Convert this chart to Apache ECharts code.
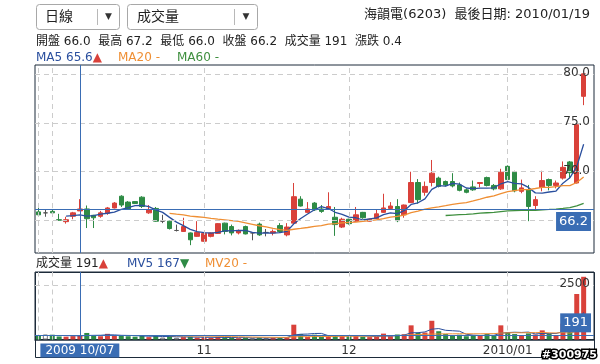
<!DOCTYPE html>
<html><head><meta charset="utf-8">
<script src="https://cdn.jsdelivr.net/npm/echarts@6/dist/echarts.min.js"></script>
<style>html,body{margin:0;padding:0;background:#fff}#c{width:600px;height:364px}</style>
</head><body><div id="c"></div>
<script>
// ---- data ----
const dates = [
 '2009/09/29','2009/09/30',
 '2009/10/01','2009/10/02','2009/10/05','2009/10/06','2009/10/07','2009/10/08','2009/10/09','2009/10/12','2009/10/13','2009/10/14','2009/10/15','2009/10/16','2009/10/19','2009/10/20','2009/10/21','2009/10/22','2009/10/23','2009/10/26','2009/10/27','2009/10/28','2009/10/29','2009/10/30',
 '2009/11/02','2009/11/03','2009/11/04','2009/11/05','2009/11/06','2009/11/09','2009/11/10','2009/11/11','2009/11/12','2009/11/13','2009/11/16','2009/11/17','2009/11/18','2009/11/19','2009/11/20','2009/11/23','2009/11/24','2009/11/25','2009/11/26','2009/11/27','2009/11/30',
 '2009/12/01','2009/12/02','2009/12/03','2009/12/04','2009/12/07','2009/12/08','2009/12/09','2009/12/10','2009/12/11','2009/12/14','2009/12/15','2009/12/16','2009/12/17','2009/12/18','2009/12/21','2009/12/22','2009/12/23','2009/12/24','2009/12/25','2009/12/28','2009/12/29','2009/12/30','2009/12/31',
 '2010/01/04','2010/01/05','2010/01/06','2010/01/07','2010/01/08','2010/01/11','2010/01/12','2010/01/13','2010/01/14','2010/01/15','2010/01/18','2010/01/19'
];
const openP = [65.9,65.8,65.95,65.1,64.9,65.45,66.0,66.2,65.55,65.45,65.75,66.3,67.5,66.9,66.95,67.4,65.8,66.25,64.95,64.95,
 64.0,63.9,63.75,63.4,62.9,63.4,63.7,64.75,64.4,63.75,64.4,63.75,64.65,63.8,63.75,64.5,63.55,64.75,67.2,65.85,
 66.8,66.2,66.2,65.35,64.35,65.15,64.95,65.85,64.95,65.2,65.85,66.25,66.45,65.6,66.85,68.9,67.9,68.9,69.35,69.0,
 69.0,68.65,68.15,68.45,68.8,69.4,68.6,68.25,70.55,69.95,68.0,68.15,66.55,68.4,69.2,68.6,69.35,71.0,68.85,77.7];
const closeP = [65.6,65.8,65.8,65.05,65.1,65.8,66.2,65.2,65.3,65.8,66.3,66.8,66.6,66.2,66.75,66.45,66.15,64.95,64.95,64.2,
 64.0,64.4,63.05,63.8,63.7,63.75,64.7,63.9,63.75,64.0,63.65,63.75,63.55,63.8,63.9,63.9,64.35,67.45,66.5,66.2,
 66.1,65.95,66.45,64.6,65.15,64.7,65.6,65.3,65.15,65.7,66.3,66.5,65.0,66.6,68.9,67.15,68.5,69.85,68.5,68.65,
 68.55,68.1,67.9,68.15,68.9,68.6,68.25,69.95,69.2,68.05,68.35,66.45,67.15,69.1,68.6,68.85,70.45,69.9,74.8,80.0];
const lowP = [65.4,65.4,65.6,65.0,64.7,65.15,66.0,64.25,64.25,65.3,65.6,66.25,66.4,66.1,66.7,66.3,65.7,64.9,64.75,64.1,
 63.9,63.85,62.5,63.35,62.85,63.3,63.65,63.6,63.5,63.6,63.6,63.0,63.45,63.4,63.5,63.75,63.4,64.7,66.45,65.8,
 66.0,65.8,66.1,63.45,64.25,64.6,64.9,65.2,64.9,65.15,65.8,66.2,64.85,65.3,66.8,66.75,67.55,68.5,68.4,68.5,
 68.4,68.0,67.8,68.05,68.4,68.5,68.1,68.15,69.0,67.9,67.8,64.95,66.1,68.0,68.1,68.3,69.2,69.3,68.8,76.8];
const highP = [66.6,66.1,66.2,65.7,65.4,65.9,67.2,66.55,65.6,66.0,66.4,66.9,67.6,67.0,67.0,67.5,66.6,66.4,65.6,65.0,
 64.6,65.3,63.8,64.95,63.75,63.8,64.75,64.8,64.6,64.1,64.5,63.8,64.8,64.15,64.1,64.75,64.75,68.85,67.5,66.9,
 66.9,66.6,67.9,66.4,65.3,65.2,66.4,65.9,65.2,66.1,67.75,66.9,67.2,66.65,70.0,69.25,69.0,71.2,69.5,69.1,
 69.85,68.9,68.3,69.1,68.95,69.5,68.75,70.3,70.65,70.1,69.2,68.65,67.5,70.1,69.3,69.1,71.05,71.1,74.8,80.0];
const volume = [180,230,220,140,130,154,191,300,180,150,260,170,200,150,130,160,110,200,90,150,
 80,110,130,90,100,70,120,90,80,60,80,60,90,70,80,90,110,680,250,120,
 220,130,160,200,180,150,170,130,110,120,270,150,230,240,650,300,320,860,380,250,
 200,220,150,180,170,250,200,650,320,250,200,280,230,420,260,180,730,350,2090,2880];
const priceTicks = [65, 70, 75, 80];
const volTicks = [2500];
const monthIdx = [0, 2, 24, 45, 68];
const monthText = ['2009', '10', '11', '12', '2010/01'];
const pick = 6; // crosshair day 2009/10/07
const stockTitle = '海韻電(6203)';
const lastDate = '2010/01/19';

// ---- derived ----
function ma(arr, n) {
  return arr.map((_, i) => i < n - 1 ? null : +(arr.slice(i - n + 1, i + 1).reduce((a, b) => a + b, 0) / n).toFixed(3));
}
const ma5 = ma(closeP, 5), ma20 = ma(closeP, 20), ma60 = ma(closeP, 60);
const mv5 = ma(volume, 5), mv20 = ma(volume, 20);

const FONT = '"DejaVu Sans","Noto Sans CJK TC",sans-serif';
const RED = '#d9413a', GREEN = '#2e8b45', DOJI = '#555555';
const BLUE = '#2a4f9e', ORANGE = '#ef8f34', MGREEN = '#3f8f3f';
const XBLUE = '#3a6db4', FRAME = '#1d2b3a', GRIDC = '#cccccc';
const cats = dates.concat(['']);

const candleData = dates.map((d, i) => [openP[i], closeP[i], lowP[i], highP[i]]);
const volData = volume.map((v, i) => ({
  value: v,
  itemStyle: closeP[i] > openP[i] ? {color: RED} : closeP[i] < openP[i] ? {color: GREEN} : {color: '#fff', borderColor: '#777', borderWidth: 1}
}));

const chg = (closeP[pick] - closeP[pick - 1]).toFixed(1);
const arrow = (a, b) => a > b ? '{r|▲}' : (a < b ? '{g|▼}' : '');
const fmtMA = v => v == null ? '-' : v.toFixed(1);
const fmtMV = v => v == null ? '-' : String(Math.round(v));

function gridLines(vals, labels) {
  return vals.map(v => ({yAxis: v, label: {show: labels, formatter: v < 1000 ? v.toFixed(1) : String(v)}}))
    .concat(monthIdx.map(i => ({xAxis: cats[i], label: {show: false}})));
}
const gridLineStyle = {color: GRIDC, type: [5, 4], width: 1};
const gridLabel = {position: 'insideEndTop', verticalAlign: 'middle', distance: [4, 1], color: '#333', fontSize: 12, fontFamily: FONT};
const boxLabel = {color: '#fff', backgroundColor: XBLUE, fontSize: 13, fontFamily: FONT, padding: [3, 3, 3, 3], distance: 3};
const f12 = '12px ' + FONT;
const richSet = {k: {fill: '#222', font: f12}, b: {fill: BLUE, font: f12}, o: {fill: ORANGE, font: f12}, m: {fill: MGREEN, font: f12}, r: {fill: RED, font: f12}, g: {fill: GREEN, font: f12}};
function legendText(text, x, y) {
  return {type: 'text', style: {text: text, x: x, y: y, font: f12, verticalAlign: 'middle', rich: richSet}};
}

const option = {
  animation: false,
  backgroundColor: '#fff',
  textStyle: {fontFamily: FONT},
  grid: [
    {left: 35, right: 6, top: 65, height: 188, show: true, borderColor: FRAME, borderWidth: 1, backgroundColor: 'transparent'},
    {left: 35, right: 6, top: 272, height: 67.5, show: true, borderColor: FRAME, borderWidth: 1, backgroundColor: 'transparent'}
  ],
  xAxis: [
    {type: 'category', gridIndex: 0, data: cats, boundaryGap: true, axisLine: {show: false}, axisTick: {show: false}, axisLabel: {show: false}, splitLine: {show: false}},
    {type: 'category', gridIndex: 1, data: cats, boundaryGap: true, axisLine: {show: true, lineStyle: {color: FRAME, width: 1.5}}, axisTick: {show: false},
      axisLabel: {interval: (idx) => monthIdx.includes(idx), formatter: (v, idx) => monthText[monthIdx.indexOf(idx)] || '', color: '#333', fontSize: 12, fontFamily: FONT, margin: 5, alignMinLabel: 'left'},
      splitLine: {show: false}}
  ],
  yAxis: [
    {type: 'value', gridIndex: 0, min: 61.7, max: 80.9, show: false, splitLine: {show: false}},
    {type: 'value', gridIndex: 1, min: 0, max: 3100, show: false, splitLine: {show: false}}
  ],
  series: [
    {type: 'line', name: 'pgrid', xAxisIndex: 0, yAxisIndex: 0, data: [], z: 1, silent: true,
      markLine: {silent: true, symbol: ['none', 'none'], animation: false, lineStyle: gridLineStyle, label: gridLabel, data: gridLines(priceTicks, true)}},
    {type: 'candlestick', name: 'K', xAxisIndex: 0, yAxisIndex: 0, z: 2, barWidth: 5, data: candleData,
      itemStyle: {color: RED, color0: GREEN, borderColor: RED, borderColor0: GREEN, borderColorDoji: DOJI, borderWidth: 1}},
    {type: 'line', name: 'MA5', xAxisIndex: 0, yAxisIndex: 0, z: 3, data: ma5, showSymbol: false, lineStyle: {color: BLUE, width: 1.3}},
    {type: 'line', name: 'MA20', xAxisIndex: 0, yAxisIndex: 0, z: 3, data: ma20, showSymbol: false, lineStyle: {color: ORANGE, width: 1.3}},
    {type: 'line', name: 'MA60', xAxisIndex: 0, yAxisIndex: 0, z: 3, data: ma60, showSymbol: false, lineStyle: {color: MGREEN, width: 1.3}},
    {type: 'line', name: 'pcross', xAxisIndex: 0, yAxisIndex: 0, data: [], z: 10, silent: true,
      markLine: {silent: true, symbol: ['none', 'none'], animation: false, lineStyle: {color: XBLUE, type: 'solid', width: 1},
        data: [
          {xAxis: cats[pick], label: {show: false}},
          {yAxis: closeP[pick], label: Object.assign({show: true, position: 'insideEndBottom', formatter: closeP[pick].toFixed(1)}, boxLabel)}
        ]}},
    {type: 'line', name: 'vgrid', xAxisIndex: 1, yAxisIndex: 1, data: [], z: 1, silent: true,
      markLine: {silent: true, symbol: ['none', 'none'], animation: false, lineStyle: gridLineStyle, label: gridLabel, data: gridLines(volTicks, true)}},
    {type: 'bar', name: 'VOL', xAxisIndex: 1, yAxisIndex: 1, z: 2, barWidth: 5, data: volData},
    {type: 'line', name: 'MV5', xAxisIndex: 1, yAxisIndex: 1, z: 3, data: mv5, showSymbol: false, lineStyle: {color: BLUE, width: 1}},
    {type: 'line', name: 'MV20', xAxisIndex: 1, yAxisIndex: 1, z: 3, data: mv20, showSymbol: false, lineStyle: {color: ORANGE, width: 1}},
    {type: 'line', name: 'vcross', xAxisIndex: 1, yAxisIndex: 1, data: [], z: 10, silent: true,
      markLine: {silent: true, symbol: ['none', 'none'], animation: false, lineStyle: {color: XBLUE, type: 'solid', width: 1},
        data: [
          {xAxis: cats[pick], label: {show: true, position: 'start', formatter: cats[pick].replace('/', ' '), color: '#fff', backgroundColor: XBLUE, fontSize: 12, fontFamily: FONT, padding: [1, 5, 1, 5], distance: 4}},
          {yAxis: volume[pick], label: Object.assign({show: true, position: 'insideEndTop', formatter: String(volume[pick])}, boxLabel)}
        ]}}
  ],
  graphic: {elements: [
    // selectors
    {type: 'rect', shape: {x: 36.5, y: 4.5, width: 83, height: 25, r: 3}, style: {fill: '#fff', stroke: '#a8a8a8', lineWidth: 1}},
    {type: 'line', shape: {x1: 97.5, y1: 9, x2: 97.5, y2: 25}, style: {stroke: '#b8b8b8', lineWidth: 1}},
    {type: 'text', style: {text: '▼', x: 108.5, y: 17, font: '9px ' + FONT, fill: '#333', align: 'center', verticalAlign: 'middle'}},
    {type: 'text', style: {text: '日線', x: 45, y: 17, font: '14px ' + FONT, fill: '#222', verticalAlign: 'middle'}},
    {type: 'rect', shape: {x: 127.5, y: 4.5, width: 130, height: 25, r: 3}, style: {fill: '#fff', stroke: '#a8a8a8', lineWidth: 1}},
    {type: 'line', shape: {x1: 234.5, y1: 9, x2: 234.5, y2: 25}, style: {stroke: '#b8b8b8', lineWidth: 1}},
    {type: 'text', style: {text: '▼', x: 246, y: 17, font: '9px ' + FONT, fill: '#333', align: 'center', verticalAlign: 'middle'}},
    {type: 'text', style: {text: '成交量', x: 137, y: 17, font: '14px ' + FONT, fill: '#222', verticalAlign: 'middle'}},
    // title
    {type: 'text', style: {text: stockTitle + '  最後日期: ' + lastDate, x: 590, y: 15, font: '13px ' + FONT, fill: '#222', align: 'right', verticalAlign: 'middle'}},
    // OHLC row
    {type: 'text', style: {text: '開盤 ' + openP[pick].toFixed(1) + '  最高 ' + highP[pick].toFixed(1) + '  最低 ' + lowP[pick].toFixed(1) + '  收盤 ' + closeP[pick].toFixed(1) + '  成交量 ' + volume[pick] + '  漲跌 ' + chg,
      x: 36, y: 42, font: f12, fill: '#222', verticalAlign: 'middle'}},
    // MA row
    legendText('{b|MA5 ' + fmtMA(ma5[pick]) + '}' + arrow(ma5[pick], ma5[pick - 1]), 36, 58),
    legendText('{o|MA20 ' + fmtMA(ma20[pick]) + '}', 118, 58),
    legendText('{m|MA60 ' + fmtMA(ma60[pick]) + '}', 177, 58),
    // volume legend row
    legendText('{k|成交量 ' + volume[pick] + '}' + arrow(volume[pick], volume[pick - 1]), 36, 264),
    legendText('{b|MV5 ' + fmtMV(mv5[pick]) + '}' + arrow(mv5[pick], mv5[pick - 1]), 127, 264),
    legendText('{o|MV20 ' + fmtMV(mv20[pick]) + '}', 205, 264),
    // volume outer frame incl. label strip
    {type: 'rect', shape: {x: 35.5, y: 272.5, width: 559, height: 85}, style: {fill: 'none', stroke: FRAME, lineWidth: 1}, z: 0},
    // watermark
    {type: 'text', style: {text: '#300975', x: 597, y: 355, font: 'bold 11px ' + FONT, fill: '#fff', stroke: '#000', lineWidth: 3, align: 'right', verticalAlign: 'middle'}, z: 100}
  ]}
};
const chart = echarts.init(document.getElementById('c'));
chart.setOption(option);
</script>
</body></html>
